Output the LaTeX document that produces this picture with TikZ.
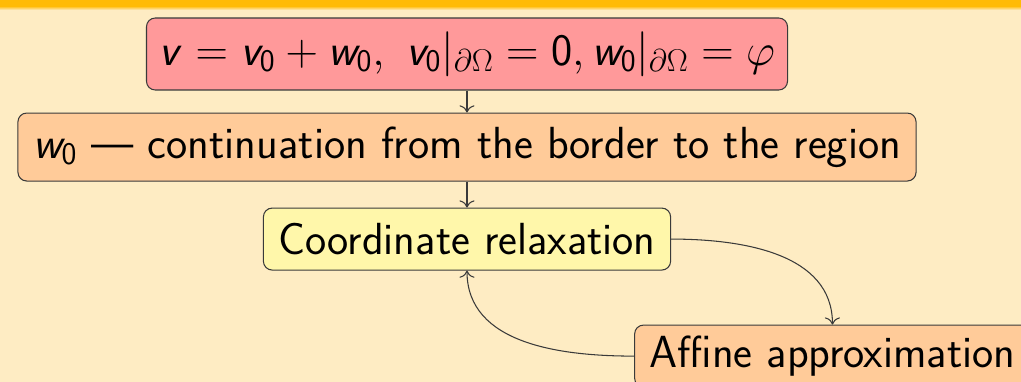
\documentclass[tikz,border=0pt]{standalone}
\usepackage{fix-cm}
\usepackage{amsmath}
\usepackage{amssymb}
\usepackage{xcolor}
\usepackage{tikz}
\usetikzlibrary{arrows.meta, positioning, calc}
\definecolor{slidebg}{HTML}{FEECC3}
\definecolor{headbar}{HTML}{FFBB05}
\definecolor{boxred}{HTML}{FF999A}
\definecolor{boxorange}{HTML}{FFCB99}
\definecolor{boxyellow}{HTML}{FFF7AA}
\definecolor{boxline}{HTML}{3A3A3A}
\renewcommand{\familydefault}{\sfdefault}
\DeclareSymbolFont{sfletters}{OT1}{cmss}{m}{sl}
\DeclareSymbolFont{sfdigits}{OT1}{cmss}{m}{n}
\DeclareMathSymbol{v}{\mathalpha}{sfletters}{`v}
\DeclareMathSymbol{w}{\mathalpha}{sfletters}{`w}
\DeclareMathSymbol{0}{\mathalpha}{sfdigits}{`0}

\begin{document}
\begin{tikzpicture}[x=0.02cm, y=-0.02cm, >={To[scale=1.4]}, font=\fontsize{25.6}{30}\selectfont]
        \tikzstyle{stage} = [rectangle, draw=boxline, rounded corners=5pt, line width=0.6pt, inner xsep=0.3cm, text=black]
        \tikzstyle{link} = [draw, ->, line width=0.6pt, color=boxline]

        \useasboundingbox (0,0) rectangle (1021,382);
        \fill [slidebg] (0,0) rectangle (1021,382);
        \fill [headbar] (0,0) rectangle (1021,6);
        \shade [top color=headbar, bottom color=slidebg] (0,6) rectangle (1021,10);
        \clip (0,0) rectangle (1021,382);

        \node [stage, fill=boxred, minimum height=1.44cm, inner xsep=0.25cm] (split) at (467,54) {$v = v_0 + w_0,\ v_0|_{\partial\Omega} = 0, w_0|_{\partial\Omega} = \varphi$};
        \node [stage, fill=boxorange, minimum height=1.36cm, below=0.44cm of split] (continuation) {$w_0$ --- continuation from the border to the region};
        \node [stage, fill=boxyellow, minimum height=1.24cm, below=0.52cm of continuation] (relax) {Coordinate relaxation};
        \node [stage, fill=boxorange, minimum height=1.24cm, below right=1.08cm and -0.74cm of relax] (affine) {Affine approximation};

        \path [link] (split) -- (continuation);
        \path [link] (continuation) -- (relax);
        \path [link] (relax.east) to[out=0, in=90] (affine.north);
        \path [link] (affine.west) to[out=180, in=-90] (relax.south);
    \end{tikzpicture}
\end{document}
